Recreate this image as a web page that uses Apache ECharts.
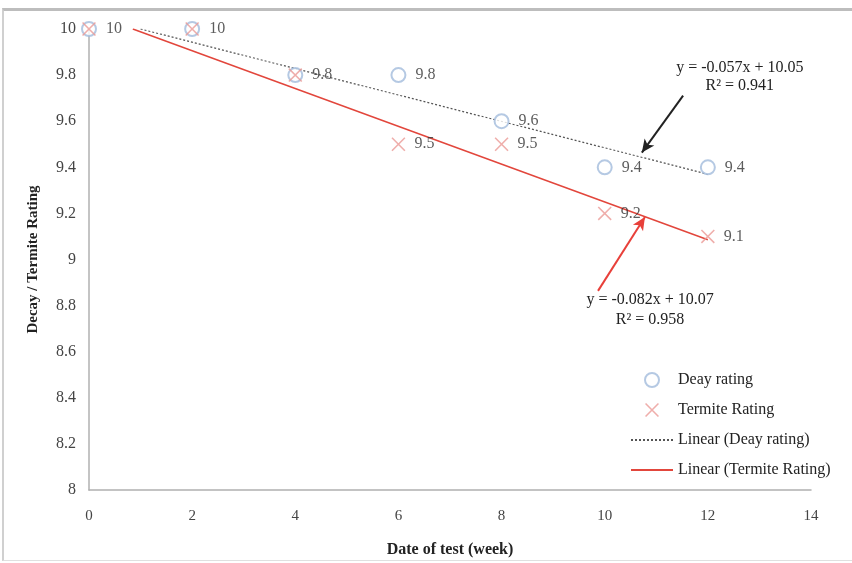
<!DOCTYPE html>
<html>
<head>
<meta charset="utf-8">
<script src="https://cdn.jsdelivr.net/npm/echarts@6/dist/echarts.min.js"></script>
<style>
html,body{margin:0;padding:0;background:#fff;}
#frame{position:absolute;left:2px;top:8px;width:860px;height:553px;border-top:3px solid #bdbdbd;border-left:2px solid #d0d0d0;border-bottom:1px solid #e0e0e0;box-sizing:border-box;}
#chart{position:absolute;left:0;top:0;width:852px;height:563px;}
</style>
</head>
<body>
<div id="frame"></div>
<div id="chart"></div>
<script>
// ---- data ----
const weeks = [0, 2, 4, 6, 8, 10, 12];
const decayRating = [10, 10, 9.8, 9.8, 9.6, 9.4, 9.4];
const termiteRating = [10, 10, 9.8, 9.5, 9.5, 9.2, 9.1];
const termiteShowLabel = [false, false, false, true, true, true, true];
// trendline end points
const decayTrend = [[1.0, 10.0], [12, 9.37]];
const termiteTrend = [[0.85, 10.0], [12, 9.086]];
const decayEq = ['y = -0.057x + 10.05', 'R\u00b2 = 0.941'];
const termiteEq = ['y = -0.082x + 10.07', 'R\u00b2 = 0.958'];
const yTicks = [8, 8.2, 8.4, 8.6, 8.8, 9, 9.2, 9.4, 9.6, 9.8, 10];
const xTicks = [0, 2, 4, 6, 8, 10, 12, 14];

const serif = '"Liberation Serif", "DejaVu Serif", serif';
const crossPath = 'path://M0,0.8 L0.8,0 L10,9.2 L9.2,10 Z M9.2,0 L10,0.8 L0.8,10 L0,9.2 Z';

const chart = echarts.init(document.getElementById('chart'));
const option = {
  animation: false,
  grid: {left: 89, right: 41, top: 29, bottom: 71},
  xAxis: {
    type: 'value', min: xTicks[0], max: xTicks[xTicks.length - 1], interval: 2,
    name: 'Date of test (week)', nameLocation: 'middle', nameGap: 52,
    nameTextStyle: {fontFamily: serif, fontWeight: 'bold', fontSize: 16, color: '#222'},
    axisLine: {lineStyle: {color: '#b0b0b0', width: 1.5}},
    axisTick: {show: false},
    splitLine: {show: false},
    axisLabel: {fontFamily: serif, fontSize: 15, color: '#444', margin: 19}
  },
  yAxis: {
    type: 'value', min: yTicks[0], max: yTicks[yTicks.length - 1], interval: 0.2,
    name: 'Decay / Termite Rating', nameLocation: 'middle', nameGap: 48,
    nameTextStyle: {fontFamily: serif, fontWeight: 'bold', fontSize: 15, color: '#222'},
    axisLine: {show: true, lineStyle: {color: '#b0b0b0', width: 1.5}},
    axisTick: {show: false},
    splitLine: {show: false},
    axisLabel: {fontFamily: serif, fontSize: 16, color: '#444', margin: 13,
      formatter: v => String(Math.round(v * 10) / 10)}
  },
  legend: {
    orient: 'vertical', left: 625, top: 367, itemGap: 14,
    itemWidth: 42, itemHeight: 14,
    textStyle: {fontFamily: serif, fontSize: 16, color: '#222'},
    data: [
      {name: 'Deay rating'},
      {name: 'Termite Rating'},
      {name: 'Linear (Deay rating)', itemStyle: {opacity: 0}},
      {name: 'Linear (Termite Rating)', itemStyle: {opacity: 0}}
    ]
  },
  series: [
    {
      name: 'Linear (Deay rating)', type: 'line', data: decayTrend, symbol: 'none',
      itemStyle: {color: '#555'},
      lineStyle: {color: '#555', width: 1.2, type: [2, 2]}, z: 2,
      markLine: {
        silent: true, symbol: ['none', 'arrow'], symbolSize: [9, 13],
        label: {show: false},
        lineStyle: {color: '#222', width: 2, type: 'solid'},
        data: [[{coord: [11.52, 9.711]}, {coord: [10.72, 9.464]}]]
      }
    },
    {
      name: 'Linear (Termite Rating)', type: 'line', data: termiteTrend, symbol: 'none',
      itemStyle: {color: '#e2463c'},
      lineStyle: {color: '#e2463c', width: 1.5}, z: 2,
      markLine: {
        silent: true, symbol: ['none', 'arrow'], symbolSize: [9, 13],
        label: {show: false},
        lineStyle: {color: '#e8403a', width: 2, type: 'solid'},
        data: [[{coord: [9.87, 8.864]}, {coord: [10.78, 9.184]}]]
      }
    },
    {
      name: 'Deay rating', type: 'scatter', symbol: 'emptyCircle', symbolSize: 14,
      data: weeks.map((w, i) => [w, decayRating[i]]),
      itemStyle: {color: '#a3bcdc', borderWidth: 1.5}, z: 3,
      label: {show: true, position: 'right', distance: 9, fontFamily: serif, fontSize: 16, color: '#333'}
    },
    {
      name: 'Termite Rating', type: 'scatter', symbol: crossPath, symbolSize: 14,
      data: weeks.map((w, i) => ({value: [w, termiteRating[i]], label: {show: termiteShowLabel[i]}})),
      itemStyle: {color: '#eb9a96'}, z: 3,
      label: {show: true, position: 'right', distance: 9, fontFamily: serif, fontSize: 16, color: '#333'}
    }
  ]
};
chart.setOption(option);

function eqText(eq, at, lineGap) {
  const p1 = chart.convertToPixel({gridIndex: 0}, at);
  return [
    {type: 'text', x: p1[0], y: p1[1], style: {text: eq[0], font: '16px ' + serif, fill: '#222', align: 'center', verticalAlign: 'middle'}},
    {type: 'text', x: p1[0], y: p1[1] + lineGap, style: {text: eq[1], font: '16px ' + serif, fill: '#222', align: 'center', verticalAlign: 'middle'}}
  ];
}
chart.setOption({
  graphic: [].concat(eqText(decayEq, [12.62, 9.83], 18), eqText(termiteEq, [10.88, 8.825], 20))
});
</script>
</body>
</html>
